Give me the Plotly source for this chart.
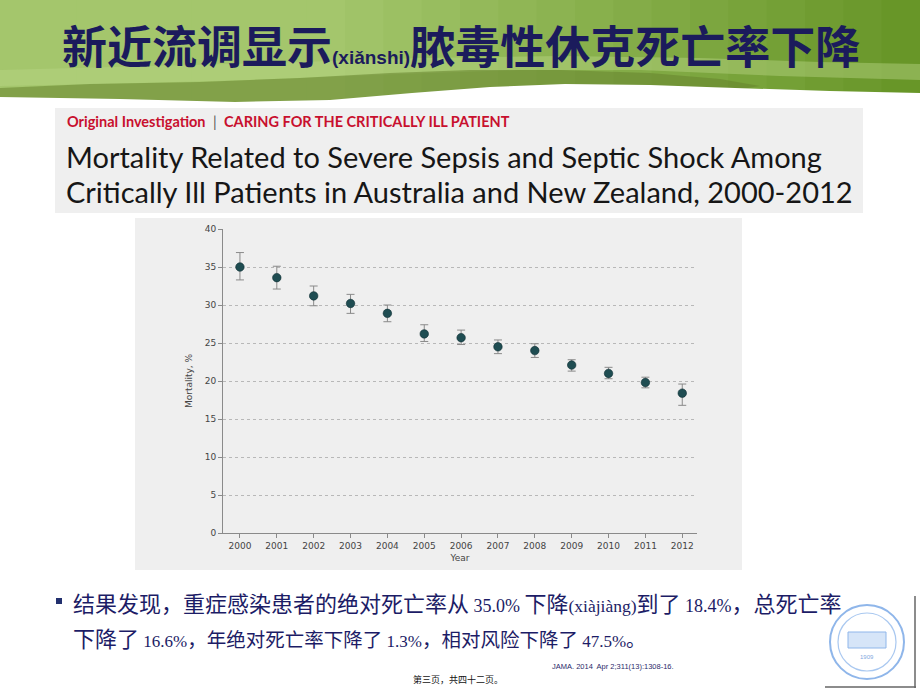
import plotly.graph_objects as go

# ---------------- data ----------------
years = [2000, 2001, 2002, 2003, 2004, 2005, 2006, 2007, 2008, 2009, 2010, 2011, 2012]
mortality = [35.0, 33.6, 31.2, 30.2, 28.9, 26.2, 25.7, 24.5, 24.0, 22.1, 21.0, 19.8, 18.4]
ci_upper = [36.9, 35.1, 32.5, 31.4, 30.0, 27.4, 26.7, 25.4, 24.9, 22.8, 21.8, 20.5, 19.6]
ci_lower = [33.3, 32.1, 29.9, 28.9, 27.8, 25.2, 24.8, 23.6, 23.1, 21.3, 20.3, 19.1, 16.8]
y_ticks = [0, 5, 10, 15, 20, 25, 30, 35, 40]

W, H = 920, 690


def X(px):
    return px / W


def Y(py):
    return 1 - py / H


def path(points):
    return "M " + " L ".join(f"{X(a):.5f},{Y(b):.5f}" for a, b in points) + " Z"


err_plus = [u - m for u, m in zip(ci_upper, mortality)]
err_minus = [m - l for m, l in zip(mortality, ci_lower)]

fig = go.Figure()
fig.add_trace(go.Scatter(
    x=years, y=mortality, mode="markers",
    marker=dict(size=8.5, color="#1f4d52", line=dict(width=0.6, color="#0e2e32")),
    error_y=dict(type="data", symmetric=False, array=err_plus, arrayminus=err_minus,
                 color="#8a8a8a", thickness=1, width=4),
    cliponaxis=False, hoverinfo="x+y",
))

shapes = []
# green banner: base plus gradient strips getting darker to the right
shapes.append(dict(type="rect", xref="paper", yref="paper", x0=0, x1=1, y0=Y(106), y1=1,
                   fillcolor="#a4c66c", line=dict(width=0), layer="below"))
c0 = (164, 198, 108)
c1 = (104, 150, 40)
n = 24
for i in range(n):
    t = i / (n - 1)
    tt = max(0.0, (t - 0.35) / 0.65)
    col = tuple(int(round(a + (b - a) * tt)) for a, b in zip(c0, c1))
    shapes.append(dict(type="rect", xref="paper", yref="paper", x0=i / n, x1=(i + 1) / n + 0.001,
                       y0=Y(106), y1=1, fillcolor="rgb(%d,%d,%d)" % col, line=dict(width=0), layer="below"))
# lighter swoosh
shapes.append(dict(type="path", xref="paper", yref="paper", layer="below",
                   path=path([(0, 70), (150, 66), (300, 62), (420, 58), (560, 56), (700, 58), (820, 62), (920, 64),
                              (920, 80), (780, 76), (640, 70), (520, 70), (400, 74), (250, 80), (100, 84), (0, 86)]),
                   fillcolor="#b8d484", opacity=0.45, line=dict(width=0)))
# darker wave band
shapes.append(dict(type="path", xref="paper", yref="paper", layer="below",
                   path=path([(0, 88), (90, 84), (200, 82), (300, 78), (390, 73), (470, 70), (560, 70),
                              (650, 73), (720, 79), (760, 86), (700, 96), (500, 98), (300, 103), (0, 100)]),
                   fillcolor="#66832e", opacity=0.55, line=dict(width=0)))
# white wave
shapes.append(dict(type="path", xref="paper", yref="paper", layer="below",
                   path=path([(0, 97), (120, 99), (235, 102), (330, 100), (412, 93), (490, 87), (565, 84),
                              (650, 85), (735, 88), (830, 91), (920, 93), (920, 108), (0, 108)]),
                   fillcolor="#ffffff", line=dict(width=0)))
# header box and chart box (dotted grey background of the pasted figure)
shapes.append(dict(type="rect", xref="paper", yref="paper", x0=X(55), x1=X(863), y0=Y(213), y1=Y(108),
                   fillcolor="#efefef", line=dict(width=0), layer="below"))
shapes.append(dict(type="rect", xref="paper", yref="paper", x0=X(135), x1=X(742), y0=Y(570), y1=Y(218),
                   fillcolor="#efefef", line=dict(width=0), layer="below"))
# bullet square
shapes.append(dict(type="rect", xref="paper", yref="paper", x0=X(56), x1=X(62), y0=Y(604), y1=Y(598),
                   fillcolor="#22306e", line=dict(width=0)))
# logo
shapes.append(dict(type="circle", xref="paper", yref="paper", x0=X(830), x1=X(904), y0=Y(679), y1=Y(605),
                   line=dict(color="#8fb6ea", width=2), fillcolor="rgba(0,0,0,0)"))
shapes.append(dict(type="circle", xref="paper", yref="paper", x0=X(838), x1=X(896), y0=Y(671), y1=Y(613),
                   line=dict(color="#a9c8f0", width=1.2), fillcolor="rgba(0,0,0,0)"))
shapes.append(dict(type="rect", xref="paper", yref="paper", x0=X(848), x1=X(886), y0=Y(648), y1=Y(632),
                   line=dict(color="#8fb6ea", width=1), fillcolor="#d6e5f8"))
shapes.append(dict(type="line", xref="paper", yref="paper", x0=X(915), x1=X(915), y0=Y(688), y1=Y(596),
                   line=dict(color="#666666", width=1.5)))
shapes.append(dict(type="line", xref="paper", yref="paper", x0=X(825), x1=X(916), y0=Y(687), y1=Y(687),
                   line=dict(color="#666666", width=1.5)))

navy = "#1c1c66"
serif = "Liberation Serif"
cjk = "Noto Sans CJK SC"

annotations = [
    dict(text="<b>新近流调显示</b><span style='font-size:19px;font-family:Liberation Sans'><b>(xiǎnshi)</b></span><b>脓毒性休克死亡率下降</b>",
         x=X(461), y=Y(44), xanchor="center", font=dict(family=cjk, size=45, color="#1b1b5c")),
    dict(text="<b>Original Investigation</b>  <span style='color:#555555'>|</span>  <b>CARING FOR THE CRITICALLY ILL PATIENT</b>",
         x=X(65), y=Y(122), xanchor="left", font=dict(family="Lato", size=14.5, color="#c8102e")),
    dict(text="Mortality Related to Severe Sepsis and Septic Shock Among",
         x=X(64), y=Y(157), xanchor="left", font=dict(family="Lato", size=29, color="#161616")),
    dict(text="Critically Ill Patients in Australia and New Zealand, 2000-2012",
         x=X(64), y=Y(192), xanchor="left", font=dict(family="Lato", size=29, color="#161616")),
    dict(text=("结果发现，重症感染患者的绝对死亡率从"
               f"<span style='font-family:{serif};font-size:18px'> 35.0% </span>下降"
               f"<span style='font-family:{serif};font-size:17.5px'>(xiàjiàng)</span>到了"
               f"<span style='font-family:{serif};font-size:18px'> 18.4%</span>，总死亡率"),
         x=X(71), y=Y(602), xanchor="left", font=dict(family=cjk, size=22, color=navy)),
    dict(text=(f"下降了<span style='font-family:{serif};font-size:17px'> 16.6%</span>"
               "<span style='font-size:19.5px'>，年绝对死亡率下降了</span>"
               f"<span style='font-family:{serif};font-size:17px'> 1.3%</span>"
               "<span style='font-size:19.5px'>，相对风险下降了</span>"
               f"<span style='font-family:{serif};font-size:17px'> 47.5%</span>"
               "<span style='font-size:19.5px'>。</span>"),
         x=X(71), y=Y(637), xanchor="left", font=dict(family=cjk, size=22, color=navy)),
    dict(text="JAMA. 2014  Apr 2;311(13):1308-16.", x=X(550), y=Y(666), xanchor="left",
         font=dict(family="Liberation Sans", size=7.5, color="#2a2a6a")),
    dict(text="第三页，共四十二页。", x=X(458), y=Y(679), xanchor="center",
         font=dict(family=cjk, size=9, color="#111111")),
    dict(text="1909", x=X(867), y=Y(657), xanchor="center",
         font=dict(family="Liberation Sans", size=6, color="#7fa8e0")),
]
for a in annotations:
    a.update(xref="paper", yref="paper", showarrow=False, yanchor="middle")

axis_font = dict(family="DejaVu Sans", size=9, color="#444444")

fig.update_layout(
    width=W, height=H,
    margin=dict(l=0, r=0, t=0, b=0, pad=0, autoexpand=False),
    paper_bgcolor="#ffffff", plot_bgcolor="rgba(0,0,0,0)",
    showlegend=False,
    shapes=shapes, annotations=annotations,
    xaxis=dict(domain=[X(223), X(697)], range=[1999.54, 2012.4], automargin=False,
               tickmode="array", tickvals=years, ticktext=[str(y) for y in years],
               showgrid=False, zeroline=False, showline=True, linecolor="#8a8a8a", linewidth=1,
               ticks="outside", ticklen=4, tickcolor="#8a8a8a", tickfont=axis_font,
               title=dict(text="Year", font=axis_font, standoff=4), fixedrange=True),
    yaxis=dict(domain=[Y(533), Y(229)], range=[0, 40], automargin=False,
               tickmode="array", tickvals=y_ticks,
               showgrid=True, gridcolor="#b8b8b8", griddash="dot", gridwidth=1,
               zeroline=False, showline=True, linecolor="#8a8a8a", linewidth=1,
               ticks="outside", ticklen=4, tickcolor="#8a8a8a", tickfont=axis_font,
               title=dict(text="Mortality, %", font=axis_font, standoff=10), fixedrange=True),
)

fig.write_html("out.html", config={"displayModeBar": False},
               post_script="document.body.style.margin='0';")
